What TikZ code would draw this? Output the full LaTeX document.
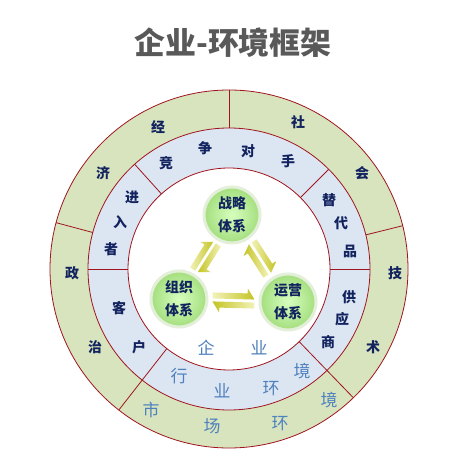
\documentclass[tikz,border=0pt]{standalone}
\usepackage{fontspec}
\newfontfamily\cjk{Noto Sans CJK SC}
\definecolor{ringline}{HTML}{A0141E}
\definecolor{outerfill}{HTML}{D7E4BD}
\definecolor{innerfill}{HTML}{DCE6F2}
\definecolor{navy}{HTML}{12235F}
\definecolor{paleblue}{HTML}{4F81BD}
\definecolor{titlegray}{HTML}{595959}
\definecolor{ballin}{HTML}{D6FFBE}
\definecolor{ballout}{HTML}{A4DE7E}
\definecolor{halo}{HTML}{E4EFDA}
\definecolor{arrowpale}{HTML}{F2F2B8}
\definecolor{arrowdark}{HTML}{C4C424}
\tikzset{
  ringtext/.style={font=\cjk\bfseries\fontsize{14}{14}\selectfont, text=navy, inner sep=0pt},
  envtext/.style={font=\cjk\fontsize{17}{17}\selectfont, text=paleblue, inner sep=0pt},
  ring/.style={draw=ringline, line width=0.8bp},
  ball/.style={circle, minimum size=56bp, inner sep=0pt, shade, inner color=ballin,
    outer color=ballout, draw=halo, line width=3bp, align=center, text=navy,
    font=\cjk\bfseries\fontsize{14}{23}\selectfont},
  pics/harpoons/.style={code={
    \shade[left color=arrowpale, right color=arrowdark]
      (-#1,1.5) -- (-#1,7.5) -- (#1-7,7.5) -- (#1-7,12.5) -- (#1,1.5) -- cycle;
    \shade[left color=arrowdark, right color=arrowpale]
      (#1,-1.5) -- (#1,-7.5) -- (-#1+7,-7.5) -- (-#1+7,-12.5) -- (-#1,-1.5) -- cycle;
  }}
}
\begin{document}
\begin{tikzpicture}[x=1bp, y=1bp]
    \useasboundingbox (-229,-183) rectangle (238,269);
    \node[font=\cjk\bfseries\fontsize{31}{31}\selectfont, text=titlegray] (title) at (4,226) {企业-环境框架};

    % Rings
    \draw[ring, fill=outerfill] (0,0) circle (179);
    \draw[ring, fill=innerfill] (0,0) circle (141);
    \draw[ring, fill=white] (0,0) circle (101);

    % Outer dividers
    \draw[ring] (90:141) -- (90:179);
    \draw[ring] (165:141) -- (165:179);
    \draw[ring] (14:141) -- (14:179);
    \draw[ring] (232:101) -- (232:179);
    \draw[ring] (314:101) -- (314:179);

    % Inner dividers
    \draw[ring] (132:101) -- (132:141);
    \draw[ring] (45:101) -- (45:141);
    \draw[ring] (180:101) -- (180:141);
    \draw[ring] (0:101) -- (0:141);

    % Outer ring labels
    \node[ringtext] (jing) at (-71,142) {经};
    \node[ringtext] (ji) at (-126,96) {济};
    \node[ringtext] (zheng) at (-157,-4) {政};
    \node[ringtext] (zhi) at (-134,-78) {治};
    \node[ringtext] (she) at (69,147) {社};
    \node[ringtext] (hui) at (133,96) {会};
    \node[ringtext] (ji2) at (166,-4) {技};
    \node[ringtext] (shu) at (144,-78) {术};
    \node[envtext] (shi) at (-78,-141) {市};
    \node[envtext] (chang) at (-17,-157) {场};
    \node[envtext] (huan) at (51,-155) {环};
    \node[envtext] (jing2) at (100,-131) {境};

    % Inner ring labels
    \node[ringtext] (jing3) at (-63,106) {竞};
    \node[ringtext] (zheng2) at (-24,121) {争};
    \node[ringtext] (dui) at (19,118) {对};
    \node[ringtext] (shou) at (59,108) {手};
    \node[ringtext] (jin) at (-97,72) {进};
    \node[ringtext] (ru) at (-109,47) {入};
    \node[ringtext] (zhe) at (-118,20) {者};
    \node[ringtext] (ti) at (100,69) {替};
    \node[ringtext] (dai) at (112,46) {代};
    \node[ringtext] (pin) at (121,18) {品};
    \node[ringtext] (ke) at (-110,-39) {客};
    \node[ringtext] (hu) at (-90,-78) {户};
    \node[ringtext] (gong) at (120,-28) {供};
    \node[ringtext] (ying) at (113,-50) {应};
    \node[ringtext] (shang) at (99,-73) {商};
    \node[envtext] (hang) at (-50,-107) {行};
    \node[envtext] (ye) at (-7,-122) {业};
    \node[envtext] (huan2) at (42,-120) {环};
    \node[envtext] (jing4) at (73,-102) {境};
    \node[envtext] (qi) at (-23,-79) {企};
    \node[envtext] (ye2) at (30,-79) {业};

    % Systems
    \node[ball] (str) at (3,54) {战略\\体系};
    \node[ball] (org) at (-50,-30) {组织\\体系};
    \node[ball] (opr) at (59,-33) {运营\\体系};

    \path (org) -- (str) pic[pos=.5, sloped] {harpoons=17};
    \path (str) -- (opr) pic[pos=.5, sloped] {harpoons=18};
    \path (org) -- (opr) pic[pos=.5, sloped] {harpoons=21};
\end{tikzpicture}
\end{document}
